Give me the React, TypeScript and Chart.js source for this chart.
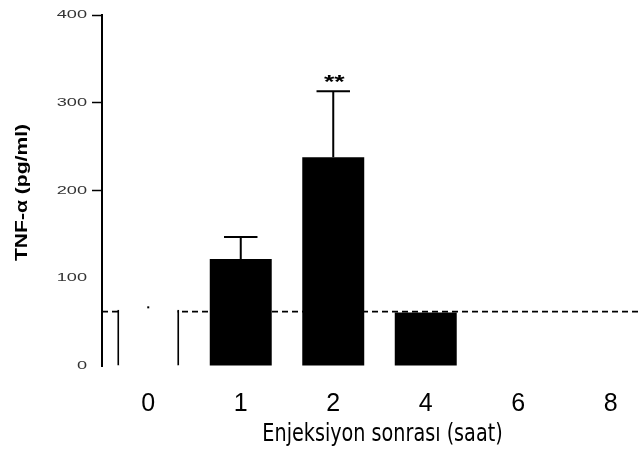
import React, { useEffect, useRef } from 'react';
import { Chart, registerables } from 'chart.js';

Chart.register(...registerables);

// Hours after injection and serum TNF-α (mean ± SEM, pg/ml)
const hours = ['0', '1', '2', '4', '6', '8'];
const tnfMean: (number | null)[] = [64, 122, 238, 61, null, null];
const tnfSem: (number | null)[] = [4, 25, 75, 0, null, null];
const significance = ['', '', '**', '', '', ''];
const controlLevel = 62;
const yMin = 0;
const yMax = 400;
const yStep = 100;
const yTitle = 'TNF-α (pg/ml)';
const xTitle = 'Enjeksiyon sonrası (saat)';

const SANS = '"Liberation Sans", Arial, sans-serif';
const HUMANIST = '"DejaVu Sans", Verdana, sans-serif';

const overlay = {
  id: 'tnfOverlay',
  beforeDatasetsDraw(chart: any) {
    const { ctx, chartArea, scales } = chart;
    const py = scales.y.getPixelForValue(controlLevel);
    ctx.save();
    ctx.strokeStyle = '#000';
    ctx.lineWidth = 1.8;
    ctx.setLineDash([6, 4]);
    ctx.beginPath();
    ctx.moveTo(chartArea.left, py);
    ctx.lineTo(chartArea.right, py);
    ctx.stroke();
    ctx.restore();
  },
  afterDatasetsDraw(chart: any) {
    const { ctx, scales } = chart;
    const y = scales.y;
    const meta = chart.getDatasetMeta(0);
    meta.data.forEach((bar: any, i: number) => {
      const m = tnfMean[i];
      const s = tnfSem[i];
      if (m == null || !s) return;
      const base = y.getPixelForValue(m);
      const top = y.getPixelForValue(m + s);
      ctx.save();
      ctx.strokeStyle = '#000';
      ctx.lineWidth = 2;
      ctx.beginPath();
      if (i !== 0) {
        ctx.moveTo(bar.x, base);
        ctx.lineTo(bar.x, top);
        // filled bars carry a cap on the error whisker
        const half = bar.width * 0.27;
        ctx.moveTo(bar.x - half, top);
        ctx.lineTo(bar.x + half, top);
      } else {
        // the baseline group shows only the whisker tip
        ctx.moveTo(bar.x, top + 2);
        ctx.lineTo(bar.x, top);
      }
      ctx.stroke();
      if (significance[i]) {
        ctx.translate(bar.x + 1, top - 13);
        ctx.scale(1.4, 1);
        ctx.fillStyle = '#000';
        ctx.font = `bold 19px ${SANS}`;
        ctx.textAlign = 'center';
        ctx.textBaseline = 'middle';
        ctx.fillText(significance[i], 0, 4);
      }
      ctx.restore();
    });
  },
  afterDraw(chart: any) {
    const { ctx, chartArea, scales } = chart;
    const y = scales.y;
    // value labels of the y axis, set in a wide face
    ctx.save();
    ctx.fillStyle = '#333';
    ctx.font = `11px ${SANS}`;
    ctx.textAlign = 'right';
    ctx.textBaseline = 'middle';
    y.ticks.forEach((t: any) => {
      const py = y.getPixelForValue(t.value);
      ctx.save();
      ctx.translate(y.right - 15, py);
      ctx.scale(1.65, 1);
      ctx.fillText(String(t.value), 0, 0);
      ctx.restore();
    });
    ctx.restore();

    // y axis title
    ctx.save();
    ctx.translate(22, (chartArea.top + chartArea.bottom) / 2 + 2);
    ctx.rotate(-Math.PI / 2);
    ctx.scale(1.24, 1);
    ctx.fillStyle = '#000';
    ctx.font = `bold 17px ${SANS}`;
    ctx.textAlign = 'center';
    ctx.textBaseline = 'middle';
    ctx.fillText(yTitle, 0, 0);
    ctx.restore();

    // x axis title, in a condensed setting
    ctx.save();
    ctx.translate((chartArea.left + chartArea.right) / 2 + 3, chart.height - 16);
    ctx.scale(0.8, 1);
    ctx.fillStyle = '#000';
    ctx.font = `24px ${HUMANIST}`;
    ctx.textAlign = 'center';
    ctx.textBaseline = 'alphabetic';
    ctx.fillText(xTitle, 0, 0);
    ctx.restore();
  },
};

export default function App() {
  const canvasRef = useRef<HTMLCanvasElement | null>(null);

  useEffect(() => {
    if (!canvasRef.current) return;
    const chart = new Chart(canvasRef.current, {
      type: 'bar',
      data: {
        labels: hours,
        datasets: [
          {
            data: tnfMean,
            backgroundColor: (c: any) => (c.dataIndex === 0 ? '#ffffff' : '#000000'),
            borderColor: '#000000',
            borderWidth: (c: any) =>
              c.dataIndex === 0 ? { left: 2, right: 2, top: 0, bottom: 0 } : 0,
            borderSkipped: false,
            barPercentage: 0.67,
            categoryPercentage: 1,
          } as any,
        ],
      },
      options: {
        animation: false,
        responsive: true,
        maintainAspectRatio: false,
        layout: { padding: { top: 15, left: 0, right: 0, bottom: 0 } },
        plugins: {
          legend: { display: false },
          tooltip: { enabled: false },
        },
        scales: {
          x: {
            grid: { display: false, drawTicks: false },
            border: { display: false },
            ticks: {
              color: '#000',
              padding: 23,
              font: { family: SANS, size: 25 },
            },
            title: { display: false, text: xTitle },
            afterFit: (s: any) => {
              s.height = 91;
            },
          },
          y: {
            min: yMin,
            max: yMax,
            grid: {
              drawOnChartArea: false,
              drawTicks: true,
              tickLength: 10,
              tickWidth: 1.5,
              tickColor: (c: any) => (c.tick && c.tick.value >= 200 ? '#000' : 'transparent'),
            },
            border: { display: true, color: '#000', width: 2 },
            ticks: { stepSize: yStep, color: 'transparent' },
            afterFit: (s: any) => {
              s.width = 102;
            },
          },
        },
      },
      plugins: [overlay],
    });
    return () => chart.destroy();
  }, []);

  return (
    <div
      style={{
        position: 'fixed',
        left: 0,
        top: 0,
        width: 641,
        height: 457,
        overflow: 'hidden',
        background: '#fff',
      }}
    >
      <div style={{ position: 'relative', width: 657, height: 457 }}>
        <canvas ref={canvasRef} />
      </div>
    </div>
  );
}
